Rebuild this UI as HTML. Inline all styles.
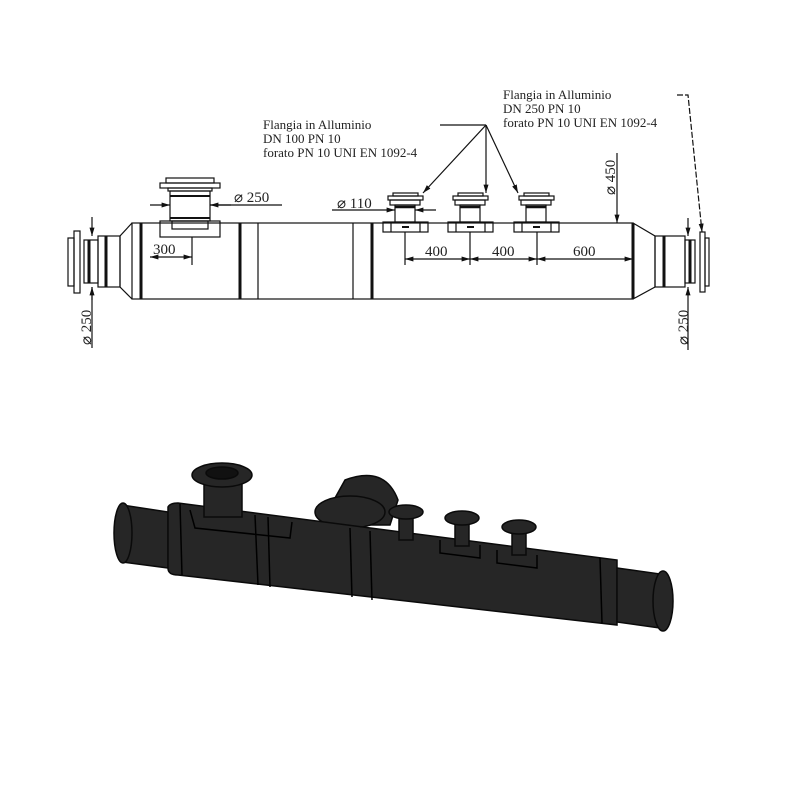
<!DOCTYPE html>
<html><head><style>
html,body{margin:0;padding:0;background:#fff;}
svg{display:block}
text{font-family:"Liberation Serif",serif;fill:#222}
</style></head><body>
<svg width="800" height="800" viewBox="0 0 800 800" xmlns="http://www.w3.org/2000/svg">
<defs>
<marker id="a" viewBox="0 0 10 10" refX="10" refY="5" markerWidth="7" markerHeight="7" orient="auto-start-reverse"><path d="M0,2 L10,5 L0,8 z" fill="#111"/></marker>
</defs>
<g stroke="#111" stroke-width="1.2" fill="none">
<rect x="132" y="223" width="501" height="76"/>
<path d="M132,223 L120,236 L120,287 L132,299"/>
<rect x="98" y="236" width="22" height="51"/>
<rect x="84" y="240" width="14" height="43"/>
<rect x="74" y="231" width="6" height="62"/>
<rect x="68" y="238" width="6" height="48"/>
<line x1="106" y1="236" x2="106" y2="287" stroke-width="3"/>
<line x1="89" y1="240" x2="89" y2="283" stroke-width="3"/>
<line x1="141" y1="223" x2="141" y2="299" stroke-width="3"/>
<line x1="240" y1="223" x2="240" y2="299" stroke-width="3"/>
<line x1="258" y1="223" x2="258" y2="299"/>
<line x1="353" y1="223" x2="353" y2="299"/>
<line x1="372" y1="223" x2="372" y2="299" stroke-width="3"/>
<line x1="633" y1="223" x2="633" y2="299" stroke-width="3"/>
<path d="M633,223 L655,236 L655,287 L633,299"/>
<rect x="655" y="236" width="30" height="51"/>
<line x1="664" y1="236" x2="664" y2="287" stroke-width="3"/>
<rect x="685" y="240" width="10" height="43"/>
<line x1="690" y1="240" x2="690" y2="283" stroke-width="3"/>
<rect x="700" y="232" width="5" height="60"/>
<rect x="705" y="238" width="4" height="48"/>
<rect x="160" y="221" width="60" height="16"/>
<rect x="172" y="221" width="36" height="8"/>
<rect x="170" y="191" width="40" height="30"/>
<line x1="170" y1="196" x2="210" y2="196" stroke-width="2"/>
<line x1="170" y1="218" x2="210" y2="218" stroke-width="2"/>
<rect x="160" y="183" width="60" height="5"/>
<rect x="166" y="178" width="48" height="5"/>
<rect x="168" y="188" width="44" height="3"/>
<g id="n">
<rect x="383" y="222" width="45" height="10"/>
<line x1="391" y1="222" x2="391" y2="232"/><line x1="420" y1="222" x2="420" y2="232"/>
<line x1="402" y1="227" x2="409" y2="227" stroke-width="2"/>
<rect x="395" y="205" width="20" height="17"/>
<line x1="395" y1="207" x2="415" y2="207" stroke-width="2.5"/>
<rect x="390" y="200" width="30" height="5"/>
<rect x="388" y="196" width="35" height="4"/>
<rect x="393" y="193" width="25" height="3"/>
</g>
<use href="#n" x="65"/>
<use href="#n" x="131"/>
<line x1="92" y1="217" x2="92" y2="236" marker-end="url(#a)"/>
<line x1="92" y1="287" x2="92" y2="348"/>
<line x1="92" y1="300" x2="92" y2="287" marker-end="url(#a)"/>
<line x1="150" y1="257" x2="192" y2="257" marker-start="url(#a)" marker-end="url(#a)"/>
<line x1="192" y1="237" x2="192" y2="265"/>
<line x1="150" y1="205" x2="170" y2="205" marker-end="url(#a)"/>
<line x1="231" y1="205" x2="210" y2="205" marker-end="url(#a)"/>
<line x1="210" y1="205" x2="282" y2="205"/>
<line x1="332" y1="210" x2="395" y2="210" marker-end="url(#a)"/>
<line x1="436" y1="210" x2="415" y2="210" marker-end="url(#a)"/>
<line x1="405" y1="232" x2="405" y2="265"/>
<line x1="470" y1="232" x2="470" y2="265"/>
<line x1="537" y1="232" x2="537" y2="265"/>
<line x1="405" y1="259" x2="470" y2="259" marker-start="url(#a)" marker-end="url(#a)"/>
<line x1="470" y1="259" x2="537" y2="259" marker-start="url(#a)" marker-end="url(#a)"/>
<line x1="537" y1="259" x2="633" y2="259" marker-start="url(#a)" marker-end="url(#a)"/>
<line x1="617" y1="153" x2="617" y2="223" marker-end="url(#a)"/>
<line x1="688" y1="218" x2="688" y2="236" marker-end="url(#a)"/>
<line x1="688" y1="350" x2="688" y2="287" marker-end="url(#a)"/>
<line x1="440" y1="125" x2="486" y2="125"/>
<line x1="486" y1="125" x2="423" y2="193" marker-end="url(#a)"/>
<line x1="486" y1="125" x2="486" y2="193" marker-end="url(#a)"/>
<line x1="486" y1="125" x2="518" y2="193" marker-end="url(#a)"/>
<path d="M677,95 L688,95 L702,232" stroke-dasharray="6,2" marker-end="url(#a)"/>
</g>
<g font-size="13">
<text x="263" y="129">Flangia in Alluminio</text>
<text x="263" y="143">DN 100 PN 10</text>
<text x="263" y="157">forato PN 10 UNI EN 1092-4</text>
<text x="503" y="99">Flangia in Alluminio</text>
<text x="503" y="113">DN 250 PN 10</text>
<text x="503" y="127">forato PN 10 UNI EN 1092-4</text>
</g>
<g font-size="15">
<text x="153" y="254">300</text>
<text x="234" y="202">⌀ 250</text>
<text x="337" y="208">⌀ 110</text>
<text x="425" y="256">400</text>
<text x="492" y="256">400</text>
<text x="573" y="256">600</text>
<text transform="translate(615,195) rotate(-90)">⌀ 450</text>
<text transform="translate(91,345) rotate(-90)">⌀ 250</text>
<text transform="translate(688,345) rotate(-90)">⌀ 250</text>
</g>
<g fill="#262626" stroke="#0a0a0a" stroke-width="1.5">
<path d="M345,480 Q385,465 398,500 L390,525 L320,525 Z"/>
<ellipse cx="350" cy="512" rx="35" ry="16"/>
<path d="M122,505 L168,512 L168,568 L122,562 Z"/>
<path d="M168,507 Q170,503 178,503 L617,560 L617,625 L178,575 Q168,575 168,568 Z"/>
<path d="M617,568 L660,574 L660,628 L617,622 Z"/>
<ellipse cx="123" cy="533" rx="9" ry="30"/>
<ellipse cx="663" cy="601" rx="10" ry="30"/>
<rect x="204" y="477" width="38" height="40"/>
<ellipse cx="222" cy="475" rx="30" ry="12"/>
<ellipse cx="222" cy="473" rx="16" ry="6" fill="#111"/>
<rect x="399" y="512" width="14" height="28"/>
<ellipse cx="406" cy="512" rx="17" ry="7"/>
<rect x="455" y="518" width="14" height="28"/>
<ellipse cx="462" cy="518" rx="17" ry="7"/>
<rect x="512" y="527" width="14" height="28"/>
<ellipse cx="519" cy="527" rx="17" ry="7"/>
</g>
<g stroke="#000" stroke-width="1.5" fill="none">
<line x1="255" y1="515" x2="258" y2="585"/>
<line x1="268" y1="517" x2="270" y2="587"/>
<line x1="350" y1="528" x2="352" y2="597"/>
<line x1="370" y1="531" x2="372" y2="600"/>
<line x1="600" y1="558" x2="602" y2="623"/>
<line x1="180" y1="504" x2="182" y2="575"/>
<path d="M190,510 L195,528 L290,538 L292,522"/>
<path d="M440,540 L440,553 L480,558 L480,545"/>
<path d="M497,550 L497,563 L537,568 L537,555"/>
</g>
</svg>
</body></html>
